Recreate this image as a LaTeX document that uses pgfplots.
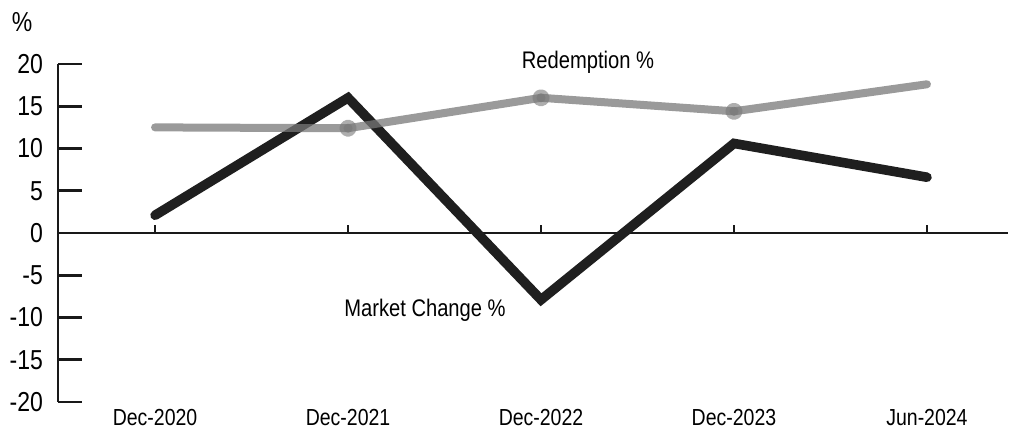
\documentclass[border=0pt]{standalone}
\usepackage{fontspec}
\setmainfont{Liberation Sans}[FakeStretch=0.84]
\usepackage{pgfplots}
\pgfplotsset{compat=1.18}
\definecolor{redgray}{gray}{0.47}
\begin{document}
\begin{tikzpicture}
\begin{axis}[
  at={(0,0)}, anchor=south west,
  scale only axis, width=475pt, height=169pt,
  xmin=-0.503, xmax=4.42, ymin=-20, ymax=20,
  clip=false,
  axis line style={line width=1.3pt, color=black!90},
  axis x line*=bottom,
  x axis line style={draw=none},
  axis y line*=left,
  ytick={-20,-15,...,20},
  xtick={0,1,2,3,4},
  xticklabels={Dec-2020,Dec-2021,Dec-2022,Dec-2023,Jun-2024},
  x tick style={draw=none},
  y tick style={line width=1.3pt, color=black!90},
  tick align=inside,
  major tick length=12pt,
  /pgf/number format/assume math mode=true,
  xticklabel style={font=\fontsize{11.6}{13}\selectfont},
  yticklabel style={font=\fontsize{13.7}{15}\selectfont, xshift=-4pt},
]
\draw[line width=1.2pt, color=black!90] (axis cs:-0.503,0) -- (axis cs:4.42,0);
\draw[line width=1pt, color=black!90] (axis cs:0,0) -- (axis cs:0,0.95);
\draw[line width=1pt, color=black!90] (axis cs:1,0) -- (axis cs:1,0.95);
\draw[line width=1pt, color=black!90] (axis cs:2,0) -- (axis cs:2,0.95);
\draw[line width=1pt, color=black!90] (axis cs:3,0) -- (axis cs:3,0.95);
\draw[line width=1pt, color=black!90] (axis cs:4,0) -- (axis cs:4,0.95);
\addplot[color=black!88, line width=4.8pt, line cap=round, line join=miter, mark=none]
  coordinates {(0,2.1) (1,16.0) (2,-7.9) (3,10.6) (4,6.6)};
\addplot[color=redgray, opacity=0.75, line width=4pt, line cap=round, line join=round,
  mark=*, mark size=2.3pt, mark indices={2,3,4},
  mark options={draw=none, fill=redgray, opacity=0.6}]
  coordinates {(0,12.5) (1,12.4) (2,16.0) (3,14.4) (4,17.6)};
\end{axis}
\node[font=\fontsize{13.7}{15}\selectfont] at (-18pt,190pt) {\%};
\node[font=\fontsize{12}{14}\selectfont] at (265pt,170pt) {Redemption \%};
\node[font=\fontsize{12}{14}\selectfont] at (183.5pt,46pt) {Market Change \%};
\pgfresetboundingbox
\path[use as bounding box] (-29pt,-15pt) rectangle (476pt,201pt);
\end{tikzpicture}
\end{document}
